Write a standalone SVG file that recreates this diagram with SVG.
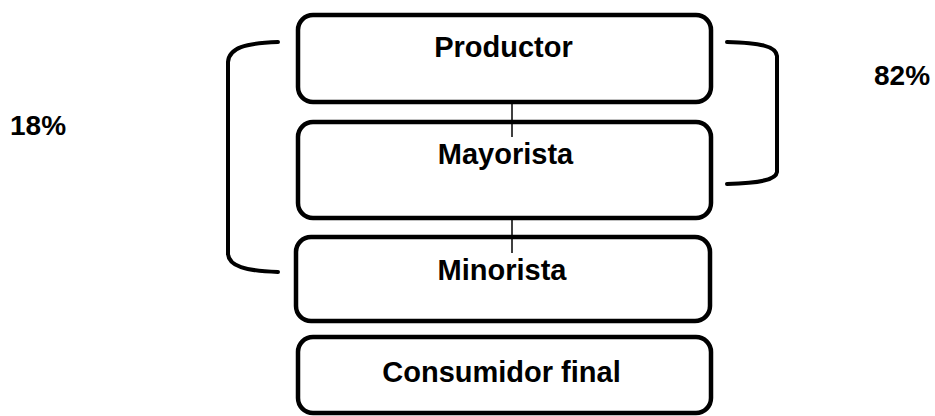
<svg xmlns="http://www.w3.org/2000/svg" width="935" height="416" viewBox="0 0 935 416">
<style>
.box{fill:none;stroke:#000;stroke-width:4.5}
.lbl{font-family:"Liberation Sans",Arial,sans-serif;font-weight:bold;font-size:29px;fill:#000;text-anchor:middle}
.pct{font-family:"Liberation Sans",Arial,sans-serif;font-weight:bold;font-size:28px;fill:#000}
.br{fill:none;stroke:#000;stroke-width:4;stroke-linecap:round}
.ln{stroke:#000;stroke-width:1.5}
</style>
<rect width="935" height="416" fill="#fff"/>
<g id="connectors">
<line class="ln" x1="512" y1="101" x2="512" y2="137"/>
<line class="ln" x1="512" y1="218" x2="512" y2="253"/>
<path class="br" d="M278,42 C245,43 229,48 228,62 L228,254 C229,266 245,271 278,272"/>
<path class="br" d="M727,42 C760,43 776,46 777,56 L777,172 C776,180 760,183 727,184"/>
</g>
<g id="productor">
<rect class="box" x="298" y="15" width="413" height="87" rx="15"/>
<text class="lbl" x="503.5" y="57">Productor</text>
</g>
<g id="mayorista">
<rect class="box" x="298" y="122" width="413" height="96" rx="15"/>
<text class="lbl" x="505.5" y="164">Mayorista</text>
</g>
<g id="minorista">
<rect class="box" x="296" y="237" width="414" height="84" rx="15"/>
<text class="lbl" x="502" y="280">Minorista</text>
</g>
<g id="consumidor">
<rect class="box" x="298" y="337" width="413" height="76" rx="15"/>
<text class="lbl" x="501.5" y="382">Consumidor final</text>
</g>
<text class="pct" x="10" y="135">18%</text>
<text class="pct" x="874" y="85">82%</text>
</svg>
